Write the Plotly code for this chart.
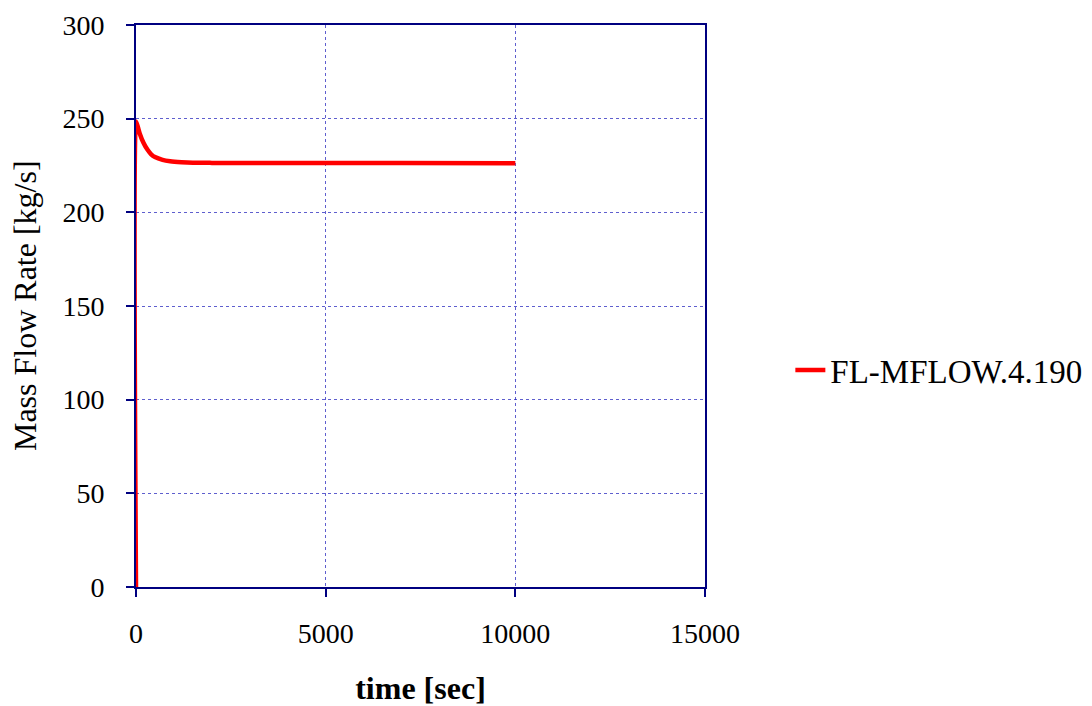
import plotly.graph_objects as go

time_sec = [0, 1, 50, 100, 200, 300, 400, 500, 700, 900, 1200, 1500, 2000, 3000, 5000, 7000, 10000]
mass_flow = [0, 248.5, 245.5, 242, 237, 233.5, 231, 229.5, 228, 227.3, 226.8, 226.5, 226.4, 226.3, 226.3, 226.3, 226.2]

x_ticks = [0, 5000, 10000, 15000]
y_ticks = [0, 50, 100, 150, 200, 250, 300]

FONT = "Liberation Serif, Times New Roman, serif"
NAVY = "#000080"
GRID = "rgba(40,40,190,0.75)"

fig = go.Figure()
fig.add_trace(go.Scatter(
    x=time_sec, y=mass_flow, mode="lines", name="FL-MFLOW.4.190",
    line=dict(color="#ff0000", width=4.5, shape="spline", smoothing=0.6),
))

fig.update_layout(
    width=1092, height=706,
    margin=dict(l=136, r=387, t=25, b=119, autoexpand=False),
    paper_bgcolor="white", plot_bgcolor="white",
    font=dict(family=FONT, size=28, color="black"),
    showlegend=True,
    legend=dict(x=1.15, xanchor="left", y=0.386, yanchor="middle",
                font=dict(family=FONT, size=33, color="black"),
                bgcolor="rgba(0,0,0,0)"),
    annotations=[dict(
        text="Mass Flow Rate [kg/s]", xref="paper", yref="paper",
        x=-0.195, y=0.5, xanchor="center", yanchor="middle",
        textangle=-90, showarrow=False,
        font=dict(family=FONT, size=32, color="black"),
    )],
)
fig.update_xaxes(
    range=[0, 15000], tickvals=x_ticks, ticktext=[str(v) for v in x_ticks],
    tickfont=dict(family=FONT, size=28),
    showline=True, linecolor=NAVY, linewidth=2, mirror=True,
    ticks="outside", ticklen=8, tickcolor=NAVY, tickwidth=2,
    ticklabelstandoff=12, automargin=False,
    showgrid=True, gridcolor=GRID, griddash="dot", gridwidth=1,
    zeroline=False,
    title=dict(text="<b>time [sec]</b>", font=dict(family=FONT, size=32), standoff=29),
)
fig.update_yaxes(
    range=[0, 300], tickvals=y_ticks, ticktext=[str(v) for v in y_ticks],
    tickfont=dict(family=FONT, size=28),
    showline=True, linecolor=NAVY, linewidth=2, mirror=True,
    ticks="outside", ticklen=8, tickcolor=NAVY, tickwidth=2,
    ticklabelstandoff=16, automargin=False,
    showgrid=True, gridcolor=GRID, griddash="dot", gridwidth=1,
    zeroline=False,
)

fig.write_html("out.html")
